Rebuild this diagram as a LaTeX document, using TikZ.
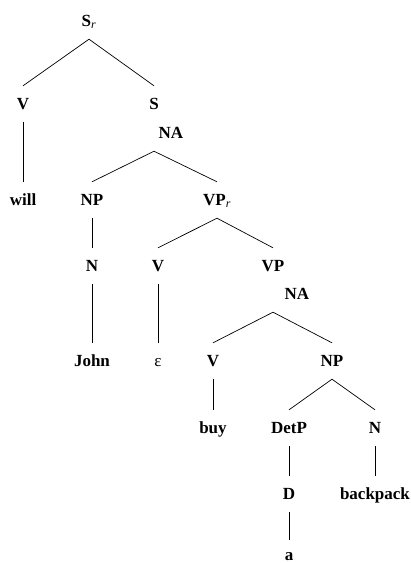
\documentclass[tikz,border=0pt]{standalone}
\usepackage{fontspec}
\setmainfont{Liberation Serif}

\begin{document}
\begin{tikzpicture}[x=1pt,y=-1pt,
  cat/.style={font=\fontsize{17}{20}\selectfont\bfseries,inner xsep=1pt,inner ysep=11pt,text height=12pt,text depth=2pt},
  edge/.style={draw=black,line width=0.7pt}]
  \useasboundingbox (0,0) rectangle (411,563);
  \node[cat] (sr) at (89,21) {S\textsubscript{\mdseries\itshape r}};
  \node[cat] (v1) at (23,104) {V};
  \node[cat] (s) at (154,104) {S};
  \node[cat] (na1) at (171,133) {NA};
  \node[cat] (will) at (23,200) {will};
  \node[cat] (np1) at (92,200) {NP};
  \node[cat] (vpr) at (217,200) {VP\textsubscript{\mdseries\itshape r}};
  \node[cat] (n1) at (92,266) {N};
  \node[cat] (v2) at (158,266) {V};
  \node[cat] (vp) at (273,266) {VP};
  \node[cat] (na2) at (297,294) {NA};
  \node[cat] (john) at (92,361) {John};
  \node[cat,font=\fontsize{17}{20}\selectfont] (eps) at (158,361) {ε};
  \node[cat] (v3) at (213,361) {V};
  \node[cat] (np2) at (332,361) {NP};
  \node[cat] (buy) at (213,428) {buy};
  \node[cat] (detp) at (289,428) {DetP};
  \node[cat] (n2) at (375,428) {N};
  \node[cat] (d) at (289,494) {D};
  \node[cat] (backpack) at (375,494) {backpack};
  \node[cat,inner ysep=8pt] (a) at (289,555) {a};
  \draw[edge] (sr.south) -- (v1.north);
  \draw[edge] (sr.south) -- (s.north);
  \draw[edge] (v1.south) -- (will.north);
  \draw[edge] (s |- na1.south) -- (np1.north);
  \draw[edge] (s |- na1.south) -- (vpr.north);
  \draw[edge] (np1.south) -- (n1.north);
  \draw[edge] (n1.south) -- (john.north);
  \draw[edge] (vpr.south) -- (v2.north);
  \draw[edge] (vpr.south) -- (vp.north);
  \draw[edge] (v2.south) -- (eps.north);
  \draw[edge] (vp |- na2.south) -- (v3.north);
  \draw[edge] (vp |- na2.south) -- (np2.north);
  \draw[edge] (v3.south) -- (buy.north);
  \draw[edge] (np2.south) -- (detp.north);
  \draw[edge] (np2.south) -- (n2.north);
  \draw[edge] (detp.south) -- (d.north);
  \draw[edge] (d.south) -- (a.north);
  \draw[edge] (n2.south) -- (backpack.north);
\end{tikzpicture}
\end{document}
